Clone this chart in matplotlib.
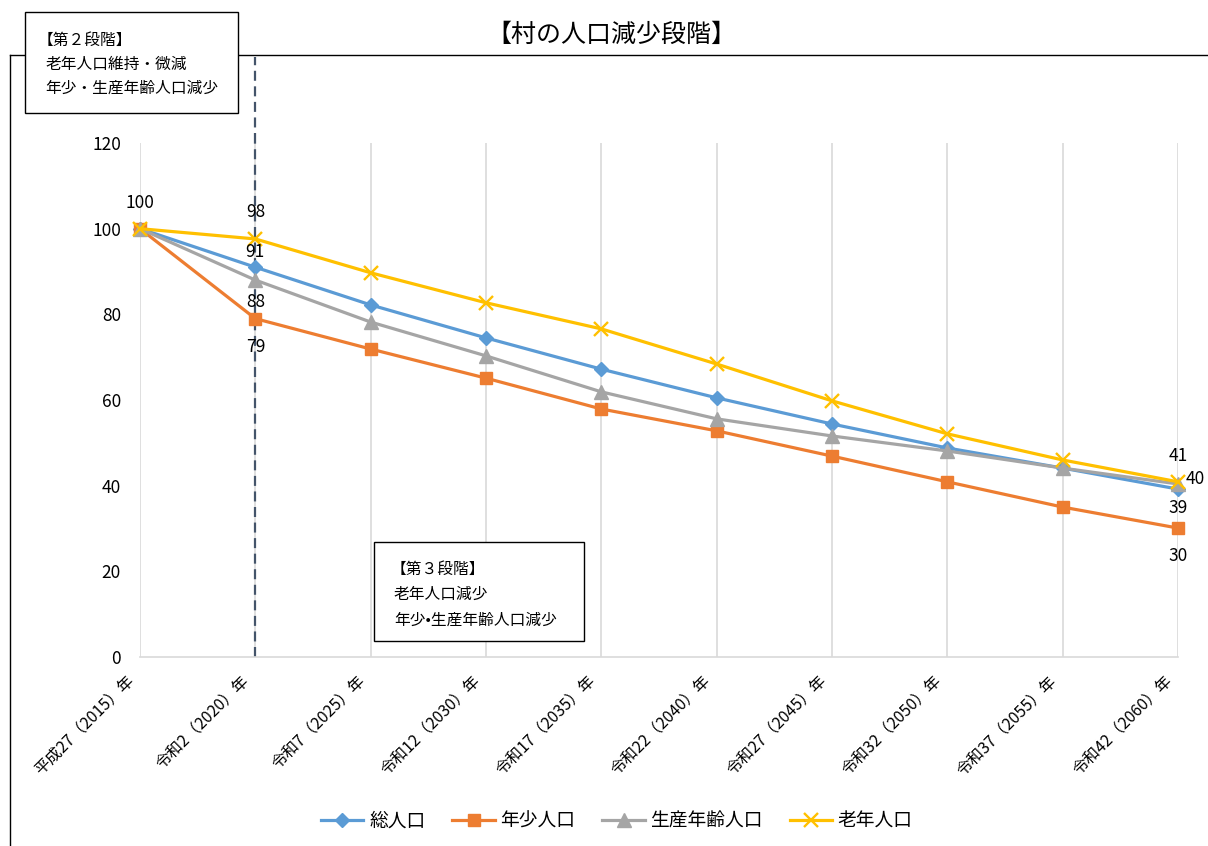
import matplotlib
matplotlib.use("Agg")
import matplotlib.pyplot as plt
from matplotlib.patches import Rectangle
from matplotlib.lines import Line2D
from matplotlib.transforms import ScaledTranslation

plt.rcParams['font.family'] = ['Noto Sans CJK JP', 'DejaVu Sans']

categories = ["平成27（2015）年", "令和2（2020）年", "令和7（2025）年", "令和12（2030）年",
              "令和17（2035）年", "令和22（2040）年", "令和27（2045）年", "令和32（2050）年",
              "令和37（2055）年", "令和42（2060）年"]
total = [100, 91, 82.2, 74.5, 67.2, 60.5, 54.4, 48.8, 44.1, 39.2]
youth = [100, 79, 71.9, 65.1, 57.9, 52.8, 46.9, 40.9, 35.0, 30.1]
working = [100, 88, 78.2, 70.3, 61.9, 55.6, 51.6, 48.1, 44.1, 40.4]
elderly = [100, 97.6, 89.7, 82.7, 76.6, 68.4, 59.8, 52.1, 46.0, 40.9]
series_names = ["総人口", "年少人口", "生産年齢人口", "老年人口"]
yticks = [0, 20, 40, 60, 80, 100, 120]

W, H = 1208, 846
fig = plt.figure(figsize=(W / 100, H / 100), dpi=100)
PX = 72 / 100  # points per pixel


def fx(px):
    return px / W


def fy(py):
    return 1 - py / H


ax = fig.add_axes([fx(140), fy(657), fx(1178) - fx(140), fy(143) - fy(657)])
x = list(range(len(categories)))

styles = [
    (total, "#5B9BD5", "D", 7.5),
    (youth, "#ED7D31", "s", 9),
    (working, "#A5A5A5", "^", 9.5),
    (elderly, "#FFC000", "x", 9.5),
]
for (vals, col, mk, ms), name in zip(styles, series_names):
    ax.plot(x, vals, color=col, lw=2.3, marker=mk, markersize=ms,
            markeredgewidth=1.7 if mk == "x" else 1, markerfacecolor=col,
            markeredgecolor=col, label=name, clip_on=False, zorder=3)

ax.set_xlim(0, len(categories) - 1)
ax.set_ylim(0, 120)
ax.set_yticks(yticks)
ax.set_xticks(x)
ax.set_xticklabels([])
ax.tick_params(axis="x", length=0)
ax.tick_params(axis="y", length=0, pad=19 * PX, labelsize=12.5)
ax.grid(axis="x", color="#D9D9D9", lw=1.2)
ax.grid(axis="y", visible=False)
for s in ["left", "right", "top"]:
    ax.spines[s].set_visible(False)
ax.spines["bottom"].set_color("#D9D9D9")
ax.spines["bottom"].set_linewidth(1.2)

# rotated category labels, right end just left of each gridline
cat_offset = ax.get_xaxis_transform() + ScaledTranslation(-14 / 100, -16 / 100,
                                                          fig.dpi_scale_trans)
for xi, cat in zip(x, categories):
    ax.text(xi, 0, cat, transform=cat_offset, rotation=45, ha="right", va="top",
            rotation_mode="anchor", fontsize=11.5)

# dashed stage divider at 2020
dash = (0, (4.5, 2.5))
ax.plot([1, 1], [0, 120], color="#44546A", lw=1.6, ls=dash, zorder=2)
fig.add_artist(Line2D([fx(255), fx(255)], [fy(143), fy(57)], color="#44546A",
                      lw=1.6, ls=dash))

# data labels (offsets in pixels)
lab_fs = 12.5


def value_label(xi, val, dx, dy, ha="center"):
    ax.annotate(f"{val:.0f}", (xi, val), xytext=(dx * PX, dy * PX),
                textcoords="offset points", ha=ha, va="center", fontsize=lab_fs)


value_label(0, total[0], 0, 26)
value_label(1, elderly[1], 0, 27)
value_label(1, total[1], 0, 15)
value_label(1, working[1], 0, -22)
value_label(1, youth[1], 0, -28)
value_label(9, elderly[-1], 0, 26)
value_label(9, working[-1], 8, 5, ha="left")
value_label(9, total[-1], 0, -19)
value_label(9, youth[-1], 0, -28)

# outer frame (top and left edges)
fig.add_artist(Line2D([fx(10), fx(1208)], [fy(55), fy(55)], color="black", lw=1.0))
fig.add_artist(Line2D([fx(10), fx(10)], [fy(55), fy(846)], color="black", lw=1.0))

# title
fig.text(fx(611), fy(35), "【村の人口減少段階】", ha="center", va="center", fontsize=18)


# stage boxes
def stage_box(x0, y0, x1, y1, lines, positions):
    fig.add_artist(Rectangle((fx(x0), fy(y1)), fx(x1) - fx(x0), fy(y0) - fy(y1),
                             facecolor="white", edgecolor="black", lw=1.0,
                             transform=fig.transFigure, zorder=5))
    for t, (tx, ty) in zip(lines, positions):
        fig.text(fx(tx), fy(ty), t, ha="left", va="center", fontsize=11.3, zorder=6)


stage_box(25, 12, 238, 113, ["【第２段階】", "老年人口維持・微減", "年少・生産年齢人口減少"],
          [(38, 40), (45, 64), (45, 88)])
stage_box(374, 542, 584, 641, ["【第３段階】", "老年人口減少", "年少•生産年齢人口減少"],
          [(391, 569), (394, 594), (394, 620)])

fig.legend(loc="center", bbox_to_anchor=(fx(617), fy(821)), ncol=4, frameon=False,
           fontsize=13.5, handlelength=2.25, columnspacing=1.45, handletextpad=0.3)

fig.savefig("out.png", dpi=100)
